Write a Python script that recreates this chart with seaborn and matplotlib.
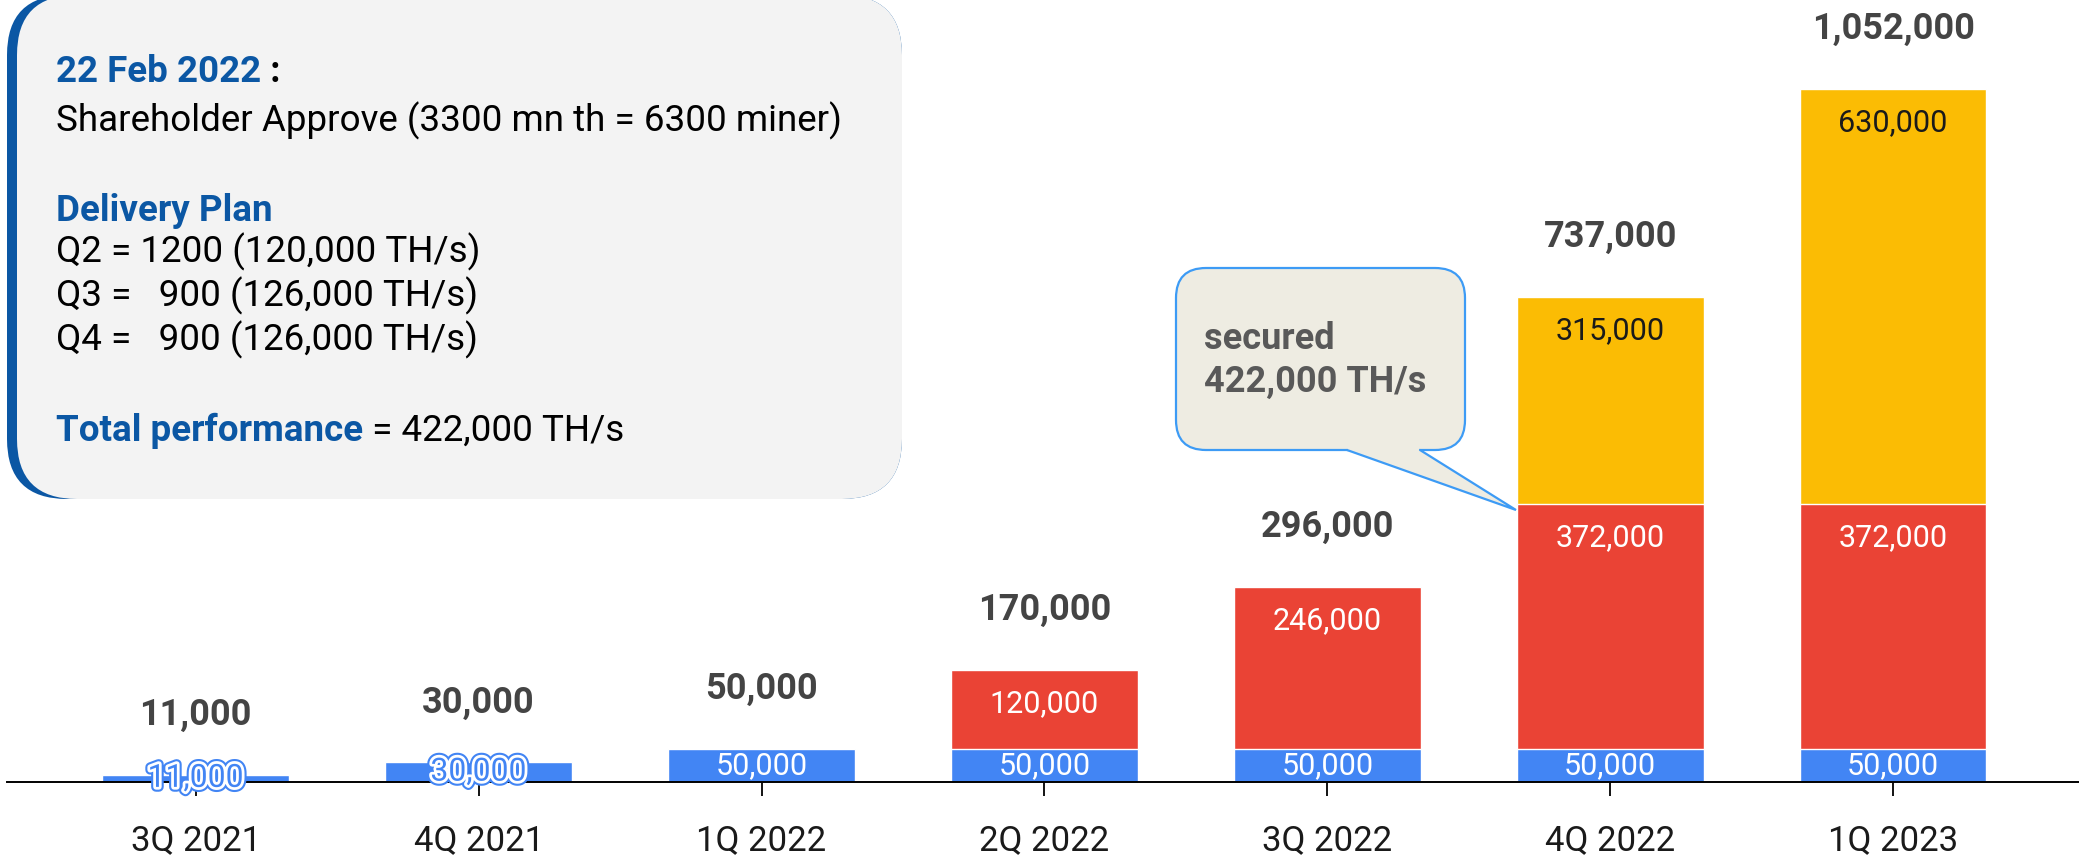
import pandas as pd
import seaborn as sns
import matplotlib.pyplot as plt
import matplotlib.patheffects as pe
from matplotlib.patches import FancyBboxPatch, Polygon

# data
quarters = ['3Q 2021', '4Q 2021', '1Q 2022', '2Q 2022', '3Q 2022', '4Q 2022', '1Q 2023']
blue_vals = [11000, 30000, 50000, 50000, 50000, 50000, 50000]
red_vals = [0, 0, 0, 120000, 246000, 372000, 372000]
yellow_vals = [0, 0, 0, 0, 0, 315000, 630000]

callout_text = 'secured\n422,000 TH/s'

BLUE = '#4285f4'
RED = '#ea4335'
YELLOW = '#fbbc04'
NAVY = '#0b57a4'

sns.set_theme(style='white')
plt.rcParams['font.family'] = ['Roboto', 'DejaVu Sans']

df = pd.DataFrame({'quarter': quarters, 'blue': blue_vals, 'red': red_vals, 'yellow': yellow_vals})
df['br'] = df['blue'] + df['red']
df['all'] = df['br'] + df['yellow']

W, H = 2079, 857
fig = plt.figure(figsize=(W / 100, H / 100), dpi=100)
ax = fig.add_axes([7 / W, 75 / H, 1 - 7 / W, 782 / H])

# stacked bars: draw cumulative totals back to front
sns.barplot(data=df, x='quarter', y='all', color=YELLOW, saturation=1, width=0.66, ax=ax)
sns.barplot(data=df, x='quarter', y='br', color=RED, saturation=1, width=0.66, ax=ax)
sns.barplot(data=df, x='quarter', y='blue', color=BLUE, saturation=1, width=0.66, ax=ax)

ax.set_xlim(-0.667, 6.657)
ax.set_ylim(0, 1052000 * 782 / 693)
ax.set_xlabel('')
ax.set_ylabel('')
ax.set_yticks([])
sns.despine(ax=ax, left=True)
ax.spines['bottom'].set_color('black')
ax.spines['bottom'].set_linewidth(1.4)
ax.tick_params(axis='x', bottom=True, length=10, width=1.3, color='black',
               labelsize=25, pad=20, labelcolor='#1a1a1a')

for i, row in df.iterrows():
    ax.annotate(f"{row['all']:,}", (i, row['all']), xytext=(0, 43), textcoords='offset points',
                ha='center', va='center', fontsize=26, fontweight='bold', color='#444444')
    if row['yellow'] > 0:
        ax.annotate(f"{row['yellow']:,}", (i, row['all']), xytext=(0, -24.5), textcoords='offset points',
                    ha='center', va='center', fontsize=22, color='#1a1a1a')
    if row['red'] > 0:
        ax.annotate(f"{row['red']:,}", (i, row['br']), xytext=(0, -24.5), textcoords='offset points',
                    ha='center', va='center', fontsize=22, color='white')
    if row['blue'] < 40000:
        # label does not fit in the thin bar: blue glyphs with a white ring
        ax.text(i, row['blue'] / 2, f"{row['blue']:,}", ha='center', va='center', fontsize=23,
                color=BLUE, path_effects=[pe.withStroke(linewidth=7, foreground=BLUE),
                                          pe.withStroke(linewidth=4, foreground='white')])
    else:
        ax.text(i, row['blue'] / 2, f"{row['blue']:,}", ha='center', va='center', fontsize=22,
                color='white')

# overlay in pixel coords for the note box and the callout
ov = fig.add_axes([0, 0, 1, 1], zorder=5)
ov.set_xlim(0, W)
ov.set_ylim(H, 0)
ov.axis('off')
ov.patch.set_alpha(0)

ov.add_patch(FancyBboxPatch((7, -5), 895, 504, boxstyle='round,pad=0,rounding_size=60',
                            fc=NAVY, ec='none'))
ov.add_patch(FancyBboxPatch((17, -5), 885, 504, boxstyle='round,pad=0,rounding_size=60',
                            fc='#f3f3f3', ec='none'))

tx = 56
fs = 26.5
t1 = ov.text(tx, 82, '22 Feb 2022', fontsize=fs, fontweight='bold', color=NAVY, va='baseline')
ov.text(tx, 131, 'Shareholder Approve (3300 mn th = 6300 miner)', fontsize=fs, color='black', va='baseline')
ov.text(tx, 221, 'Delivery Plan', fontsize=fs, fontweight='bold', color=NAVY, va='baseline')
ov.text(tx, 262, 'Q2 = 1200 (120,000 TH/s)', fontsize=fs, color='black', va='baseline')
ov.text(tx, 306, 'Q3 =   900 (126,000 TH/s)', fontsize=fs, color='black', va='baseline')
ov.text(tx, 350, 'Q4 =   900 (126,000 TH/s)', fontsize=fs, color='black', va='baseline')
t2 = ov.text(tx, 441, 'Total performance', fontsize=fs, fontweight='bold', color=NAVY, va='baseline')

fig.canvas.draw()
inv = ov.transData.inverted()
x1 = inv.transform((t1.get_window_extent().x1, 0))[0]
ov.text(x1, 82, ' :', fontsize=fs, fontweight='bold', color='black', va='baseline')
x2 = inv.transform((t2.get_window_extent().x1, 0))[0]
ov.text(x2, 441, ' = 422,000 TH/s', fontsize=fs, color='black', va='baseline')

# callout bubble
CFILL = '#eeece2'
CEDGE = '#3d9bf5'
ov.add_patch(FancyBboxPatch((1176, 268), 289, 182, boxstyle='round,pad=0,rounding_size=30',
                            fc=CFILL, ec=CEDGE, lw=1.6))
ov.add_patch(Polygon([(1349, 446), (1347, 450), (1516, 510), (1420, 450), (1418, 446)],
                     closed=True, fc=CFILL, ec='none'))
ov.plot([1347, 1516, 1420], [450, 510, 450], color=CEDGE, lw=1.6, solid_joinstyle='miter')
ov.text(1204, 360, callout_text, fontsize=26, fontweight='bold', color='#595959',
        va='center', ha='left', linespacing=1.25)

fig.savefig('out.png', dpi=100)
